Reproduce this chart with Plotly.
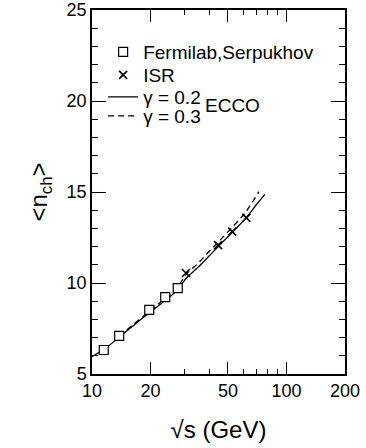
import plotly.graph_objects as go

# Data
fermi_x = [11.5, 13.8, 19.7, 23.8, 27.6]
fermi_y = [6.32, 7.10, 8.52, 9.22, 9.72]

isr_x = [30.4, 44.5, 52.6, 62.2]
isr_y = [10.55, 12.08, 12.82, 13.58]

g02_x = [10, 12, 14, 17, 20, 24, 27.6, 30.4, 35, 40, 45, 53, 62, 70, 77.5]
g02_y = [5.95, 6.50, 7.08, 7.82, 8.42, 9.08, 9.62, 10.25, 10.85, 11.48, 12.05, 12.82, 13.58, 14.30, 14.87]

g03_x = [13.8, 16, 20, 24, 27.6, 30.4, 35, 40, 45, 53, 62, 72.2]
g03_y = [7.08, 7.65, 8.50, 9.20, 9.78, 10.47, 11.07, 11.73, 12.30, 13.10, 13.93, 15.02]

x_ticks = [10, 20, 50, 100, 200]
x_minor = [30, 40, 60, 70, 80, 90]

FONT = "Liberation Sans, Arial, Helvetica, sans-serif"

fig = go.Figure()
fig.add_trace(go.Scatter(x=g02_x, y=g02_y, mode="lines", name="γ = 0.2", legend="legend3",
                         line=dict(color="black", width=1.3, shape="spline")))
fig.add_trace(go.Scatter(x=g03_x, y=g03_y, mode="lines", name="γ = 0.3", legend="legend4",
                         line=dict(color="black", width=1.3, dash="6px,4px", shape="spline")))
fig.add_trace(go.Scatter(x=fermi_x, y=fermi_y, mode="markers", name="Fermilab,Serpukhov", legend="legend",
                         marker=dict(symbol="square", size=9, color="white", line=dict(width=1.2, color="black"))))
fig.add_trace(go.Scatter(x=isr_x, y=isr_y, mode="markers", name="ISR", legend="legend2",
                         marker=dict(symbol="x-thin", size=8, color="black", line=dict(width=1.6, color="black"))))

LX = 0.044
def leg(y):
    return dict(x=LX, y=y, xanchor="left", yanchor="middle", bgcolor="rgba(0,0,0,0)",
                font=dict(size=19), tracegroupgap=0, itemwidth=30)

fig.update_layout(
    width=366, height=448,
    margin=dict(l=92, r=21, t=10, b=74, autoexpand=False),
    paper_bgcolor="white", plot_bgcolor="white",
    font=dict(family=FONT, size=18, color="black"),
    showlegend=True,
    legend=leg(0.8846), legend2=leg(0.8214), legend3=leg(0.761), legend4=leg(0.7088),
    annotations=[dict(text="ECCO", x=0.555, y=0.738, xref="paper", yref="paper",
                      showarrow=False, font=dict(size=19), xanchor="center", yanchor="middle")],
)
fig.update_xaxes(type="log", range=[1, 2.30103], tickvals=x_ticks, ticktext=[str(v) for v in x_ticks],
                 ticks="inside", ticklen=12, tickwidth=1.3, tickcolor="black",
                 minor=dict(tickmode="array", tickvals=x_minor, ticks="inside", ticklen=5, tickwidth=1.2, tickcolor="black"),
                 showline=True, linecolor="black", linewidth=1.5, mirror="allticks",
                 showgrid=False, zeroline=False, automargin=False,
                 title=dict(text="√s (GeV)", font=dict(size=24), standoff=21))
fig.update_yaxes(range=[5, 25], dtick=5, tick0=5,
                 ticks="inside", ticklen=14, tickwidth=1.3, tickcolor="black",
                 minor=dict(dtick=1, ticks="inside", ticklen=6, tickwidth=1.2, tickcolor="black"),
                 showline=True, linecolor="black", linewidth=1.5, mirror="allticks",
                 showgrid=False, zeroline=False, automargin=False,
                 title=dict(text="&lt;n<sub>ch</sub>&gt;", font=dict(size=24), standoff=12))

fig.write_html("out.html", config={"displayModeBar": False},
               post_script="document.body.style.margin='0';document.body.style.overflow='hidden';")
